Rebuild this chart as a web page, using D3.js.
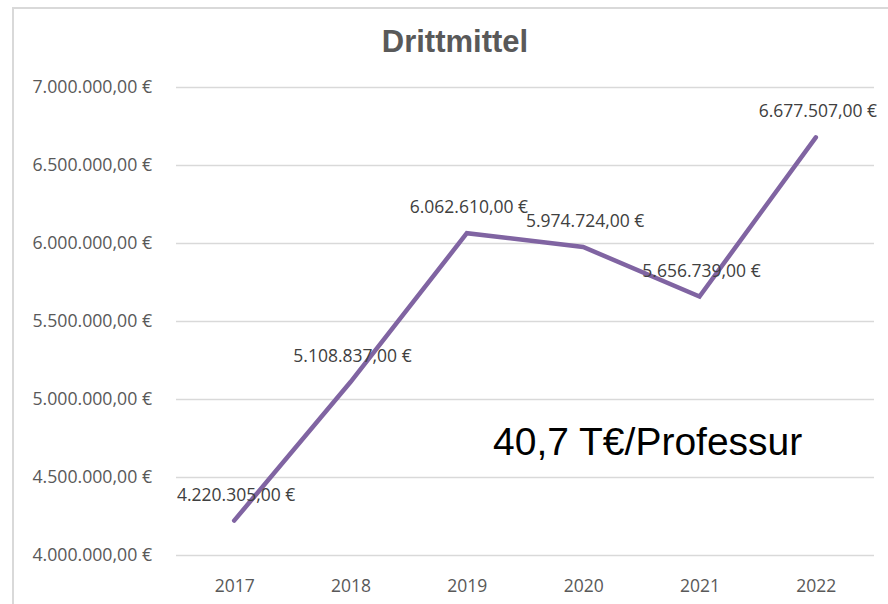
<!DOCTYPE html>
<html><head><meta charset="utf-8">
<script src="https://cdn.jsdelivr.net/npm/d3@7"></script>
<style>body{margin:0;background:#fff}svg{display:block}</style>
</head><body>
<svg id="c" width="888" height="604"></svg>
<script>
const title = "Drittmittel";
const years = ["2017","2018","2019","2020","2021","2022"];
const values = [4220305, 5108837, 6062610, 5974724, 5656739, 6677507];
const yTicks = [4000000, 4500000, 5000000, 5500000, 6000000, 6500000, 7000000];
const annotation = "40,7 T€/Professur";

const svg = d3.select("#c");
const margin = {left: 176, right: 14, top: 87, bottom: 49};
const W = 888, H = 604;

// frame
svg.append("rect").attr("x", 13).attr("y", 8).attr("width", 900).attr("height", 700)
  .attr("fill", "#fff").attr("stroke", "#d9d9d9").attr("stroke-width", 2);

const x = d3.scalePoint().domain(years).range([margin.left, W - margin.right]).padding(0.5);
const y = d3.scaleLinear().domain([4000000, 7000000]).range([555, 87]);

const deFmt = d3.formatLocale({decimal: ",", thousands: ".", grouping: [3], currency: ["", " €"]});
const fmt = v => deFmt.format(",.2f")(v) + " €";

// gridlines
const yAxis = d3.axisLeft(y).tickValues(yTicks).tickSize(-(W - margin.right - margin.left)).tickPadding(24).tickFormat(fmt);
const gy = svg.append("g").attr("transform", `translate(${margin.left},0)`).call(yAxis);
gy.select(".domain").remove();
gy.selectAll(".tick line").attr("stroke", "#d9d9d9").attr("stroke-width", 1.5);
gy.selectAll(".tick text").attr("fill", "#595959").attr("font-family", "'Open Sans', sans-serif")
  .attr("font-size", "17.7px").attr("dy", "0.32em");

const xAxis = d3.axisBottom(x).tickSize(0).tickPadding(0);
const gx = svg.append("g").attr("transform", `translate(0,555)`).call(xAxis);
gx.select(".domain").remove();
gx.selectAll(".tick text").attr("fill", "#595959").attr("font-family", "'Open Sans', sans-serif")
  .attr("font-size", "17.5px").attr("dy", null).attr("y", 37);

// line
const line = d3.line().x((d, i) => x(years[i])).y(d => y(d));
svg.append("path").datum(values).attr("d", line).attr("fill", "none")
  .attr("stroke", "#8064a2").attr("stroke-width", 4.5).attr("stroke-linecap", "round").attr("stroke-linejoin", "miter");

// data labels
svg.append("g").selectAll("text").data(values).join("text")
  .attr("x", (d, i) => x(years[i]) + 2)
  .attr("y", d => y(d) - 20)
  .attr("text-anchor", "middle")
  .attr("fill", "#404040").attr("font-family", "'Open Sans', sans-serif").attr("font-size", "17.5px")
  .text(d => fmt(d));

// title
svg.append("text").attr("x", 455).attr("y", 52).attr("text-anchor", "middle")
  .attr("font-family", "'Liberation Sans', Arial, sans-serif").attr("font-weight", "bold")
  .attr("font-size", "31px").attr("fill", "#595959").text(title);

// annotation
svg.append("text").attr("x", 493).attr("y", 455)
  .attr("font-family", "'Liberation Sans', Arial, sans-serif")
  .attr("font-size", "39px").attr("fill", "#000").text(annotation);
</script>
</body></html>
